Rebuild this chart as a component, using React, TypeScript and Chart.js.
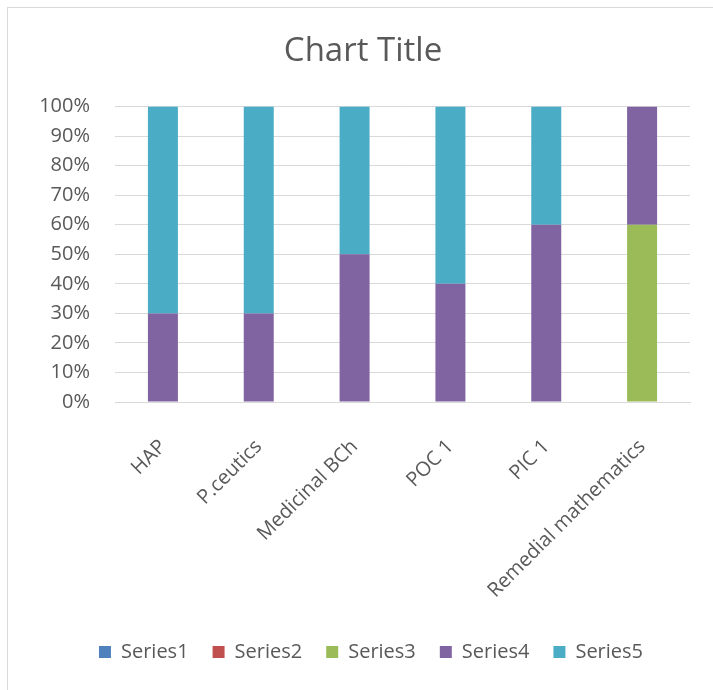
import React, { useEffect, useRef } from "react";
import { Chart, registerables } from "chart.js";

Chart.register(...registerables);

const categories = ["HAP", "P.ceutics", "Medicinal BCh", "POC 1", "PIC 1", "Remedial mathematics"];
const series1 = [0, 0, 0, 0, 0, 0];
const series2 = [0, 0, 0, 0, 0, 0];
const series3 = [0, 0, 0, 0, 0, 60];
const series4 = [30, 30, 50, 40, 60, 40];
const series5 = [70, 70, 50, 60, 40, 0];
const seriesNames = ["Series1", "Series2", "Series3", "Series4", "Series5"];
const seriesColors = ["#4F81BD", "#C0504D", "#9BBB59", "#8064A2", "#4BACC6"];

const FONT = "'Open Sans', 'Liberation Sans', sans-serif";

const shiftLegend = {
  id: "shiftLegend",
  afterLayout(chart: any) {
    const lg = chart.legend;
    if (lg) {
      lg.left += 8;
      lg.right += 8;
    }
  },
};

export default function App() {
  const ref = useRef<HTMLCanvasElement | null>(null);
  useEffect(() => {
    if (!ref.current) return;
    const all = [series1, series2, series3, series4, series5];
    const chart = new Chart(ref.current, {
      type: "bar",
      data: {
        labels: categories,
        datasets: all.map((d, i) => ({
          label: seriesNames[i],
          data: d,
          backgroundColor: seriesColors[i],
          borderWidth: 0,
          categoryPercentage: 1,
          barPercentage: 0.313,
        })),
      },
      plugins: [shiftLegend],
      options: {
        animation: false,
        responsive: false,
        maintainAspectRatio: false,
        layout: { padding: { left: 36, right: 23, top: 10, bottom: 18 } },
        plugins: {
          title: {
            display: true,
            text: "Chart Title",
            color: "#595959",
            font: { family: FONT, size: 33, weight: "normal" },
            padding: { top: 22, bottom: 35 },
          },
          legend: {
            position: "bottom",
            labels: {
              boxWidth: 12,
              boxHeight: 12,
              color: "#595959",
              font: { family: FONT, size: 20 },
              padding: 24,
            },
          },
          tooltip: { enabled: false },
        },
        scales: {
          x: {
            stacked: true,
            grid: { display: false, drawTicks: false },
            border: { display: true, color: "#d9d9d9", width: 1 },
            afterFit: (scale: any) => {
              scale.height = 216;
            },
            ticks: {
              color: "#595959",
              font: { family: FONT, size: 20 },
              maxRotation: 45,
              minRotation: 45,
              padding: 33,
              autoSkip: false,
            },
          },
          y: {
            stacked: true,
            min: 0,
            max: 100,
            grid: { color: "#d9d9d9", drawTicks: false },
            border: { display: false },
            afterFit: (scale: any) => {
              scale.width = 79;
            },
            ticks: {
              stepSize: 10,
              color: "#595959",
              font: { family: FONT, size: 20 },
              padding: 25,
              callback: (v: any) => v + "%",
            },
          },
        },
      },
    });
    return () => chart.destroy();
  }, []);
  return (
    <div style={{ position: "fixed", left: 0, top: 0, width: 713, height: 690, background: "#fff" }}>
      <div
        style={{
          position: "absolute",
          left: 7,
          top: 7,
          width: 730,
          height: 700,
          border: "1px solid #d9d9d9",
          boxSizing: "border-box",
        }}
      />
      <canvas ref={ref} width={713} height={690} style={{ position: "absolute", left: 0, top: 0 }} />
    </div>
  );
}
